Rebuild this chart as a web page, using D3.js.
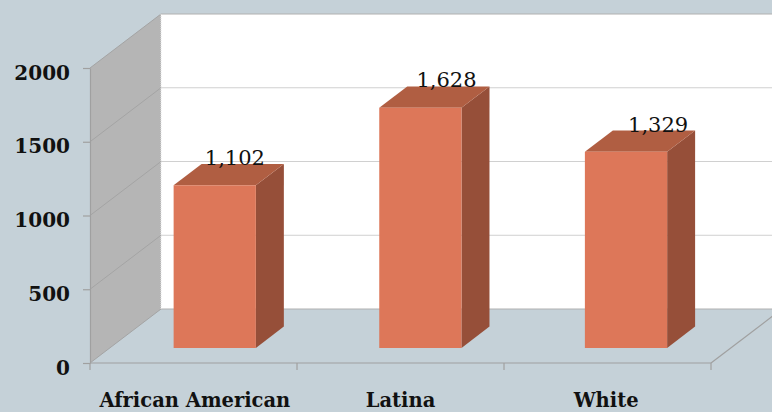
<!DOCTYPE html>
<html>
<head>
<meta charset="utf-8">
<script src="https://cdn.jsdelivr.net/npm/d3@7"></script>
<style>
  html, body { margin: 0; padding: 0; background: #c5d1d8; }
  svg { display: block; }
</style>
</head>
<body>
<div id="chart"></div>
<script>
// data
const categories = ["African American", "Latina", "White"];
const values = [1102, 1628, 1329];
const yTicks = [0, 500, 1000, 1500, 2000];

const W = 772, H = 412;
// front plane of the 3d box, depth offset toward the back wall
const front = { left: 90, right: 711, bottom: 363, top: 68 };
const depth = { dx: 71, dy: -54 };
const barDepth = [0.28, 0.674];

const svg = d3.select("#chart").append("svg")
  .attr("width", W).attr("height", H);

const y = d3.scaleLinear().domain([0, 2000]).range([front.bottom, front.top]);
const x = d3.scaleBand().domain(categories)
  .range([front.left, front.right])
  .paddingInner(0.6).paddingOuter(0.31);

// project a front-plane point back by depth fraction d
const P = (px, py, d) => [px + depth.dx * d, py + depth.dy * d];
const poly = pts => pts.map(p => p.join(",")).join(" ");

const wallBack = front.left + depth.dx;
const g = svg.append("g");

// back wall
g.append("polygon")
  .attr("points", poly([P(front.left, y(2000), 1), P(front.right, y(2000), 1), P(front.right, y(0), 1), P(front.left, y(0), 1)]))
  .attr("fill", "#ffffff");

// side wall
g.append("polygon")
  .attr("points", poly([[front.left, y(2000)], P(front.left, y(2000), 1), P(front.left, y(0), 1), [front.left, y(0)]]))
  .attr("fill", "#b5b5b5");

// gridlines on back wall and side wall
yTicks.forEach(t => {
  const [bx, by] = P(front.left, y(t), 1);
  const [ex] = P(front.right, y(t), 1);
  g.append("line")
    .attr("x1", bx).attr("y1", by).attr("x2", ex).attr("y2", by)
    .attr("stroke", t === 0 || t === 2000 ? "#b0b0b0" : "#d0d0d0").attr("stroke-width", 1);
  g.append("line")
    .attr("x1", front.left).attr("y1", y(t)).attr("x2", bx).attr("y2", by)
    .attr("stroke", "#a4a4a4").attr("stroke-width", 1);
});

// back wall left edge
g.append("line")
  .attr("x1", wallBack).attr("y1", P(0, y(2000), 1)[1])
  .attr("x2", wallBack).attr("y2", P(0, y(0), 1)[1])
  .attr("stroke", "#e2e2e2").attr("stroke-dasharray", "1,1");

// floor right edge
const fr0 = [front.right, y(0)], fr1 = P(front.right, y(0), 1);
g.append("line")
  .attr("x1", fr0[0]).attr("y1", fr0[1]).attr("x2", fr1[0]).attr("y2", fr1[1])
  .attr("stroke", "#a0a0a0").attr("stroke-width", 1.2);

// bars
const bars = g.selectAll("g.bar").data(values).enter().append("g").attr("class", "bar");
bars.each(function (v, i) {
  const sel = d3.select(this);
  const x0 = x(categories[i]), x1 = x0 + x.bandwidth();
  const [d0, d1] = barDepth;
  // side face
  sel.append("polygon")
    .attr("points", poly([P(x1, y(v), d0), P(x1, y(v), d1), P(x1, y(0), d1), P(x1, y(0), d0)]))
    .attr("fill", "#964f39");
  // top face
  sel.append("polygon")
    .attr("points", poly([P(x0, y(v), d0), P(x0, y(v), d1), P(x1, y(v), d1), P(x1, y(v), d0)]))
    .attr("fill", "#b05e42");
  // front face
  sel.append("polygon")
    .attr("points", poly([P(x0, y(v), d0), P(x1, y(v), d0), P(x1, y(0), d0), P(x0, y(0), d0)]))
    .attr("fill", "#dd7759");
  // value label
  const lx = x0 + x.bandwidth() / 2 + 40 + i * 6;
  const ly = P(0, y(v), d1)[1] + 1;
  sel.append("text")
    .attr("x", lx).attr("y", ly)
    .attr("text-anchor", "middle")
    .attr("font-family", "'DejaVu Serif', serif")
    .attr("font-size", 21)
    .attr("fill", "#111")
    .text(d3.format(",")(v));
});

// y axis
const yAxis = svg.append("g")
  .attr("transform", `translate(${front.left},0)`)
  .call(d3.axisLeft(y).tickValues(yTicks).tickFormat(d3.format("d"))
    .tickSize(7).tickPadding(13).tickSizeOuter(0));
yAxis.select(".domain").attr("stroke", "#a0a0a0").attr("stroke-width", 1.2);
yAxis.selectAll(".tick line").attr("stroke", "#a0a0a0").attr("stroke-width", 1.2);
yAxis.selectAll(".tick text")
  .attr("font-family", "'DejaVu Serif', serif")
  .attr("font-weight", "bold")
  .attr("font-size", 20)
  .attr("fill", "#111")
  .attr("dy", "0.55em");

// x axis baseline with ticks at category boundaries
const xAxis = svg.append("g").attr("transform", `translate(0,${front.bottom})`);
xAxis.append("line")
  .attr("x1", front.left).attr("x2", front.right)
  .attr("stroke", "#a0a0a0").attr("stroke-width", 1.2);
xAxis.selectAll("line.tk").data(d3.range(categories.length + 1)).enter().append("line")
  .attr("class", "tk")
  .attr("x1", i => front.left + (front.right - front.left) * i / categories.length)
  .attr("x2", i => front.left + (front.right - front.left) * i / categories.length)
  .attr("y1", 0).attr("y2", 7)
  .attr("stroke", "#a0a0a0").attr("stroke-width", 1.2);
xAxis.selectAll("text").data(categories).enter().append("text")
  .attr("x", d => x(d) + x.bandwidth() / 2)
  .attr("y", 44)
  .attr("text-anchor", "middle")
  .attr("font-family", "'DejaVu Serif', serif")
  .attr("font-weight", "bold")
  .attr("font-size", 19.5)
  .attr("fill", "#111")
  .text(d => d);
</script>
</body>
</html>
